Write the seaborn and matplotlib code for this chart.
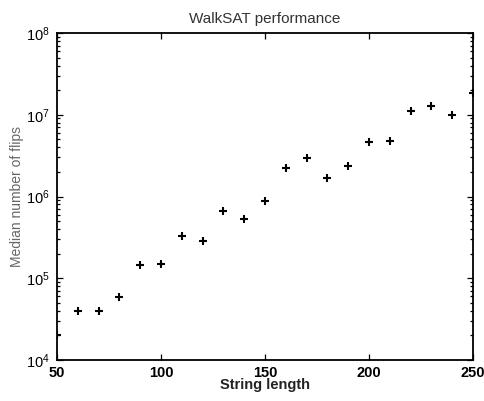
import matplotlib
matplotlib.use("Agg")
import matplotlib.pyplot as plt
import seaborn as sns
import pandas as pd
from matplotlib.ticker import LogLocator, NullFormatter

# data
string_length = [50, 60, 70, 80, 90, 100, 110, 120, 130, 140, 150,
                 160, 170, 180, 190, 200, 210, 220, 230, 240, 250]
median_flips = [2.0e4, 4.0e4, 4.0e4, 5.9e4, 1.47e5, 1.48e5, 3.25e5, 2.85e5,
                6.7e5, 5.35e5, 8.9e5, 2.24e6, 2.93e6, 1.7e6, 2.37e6, 4.7e6,
                4.75e6, 1.12e7, 1.27e7, 1.0e7, 1.86e7]

df = pd.DataFrame({"length": string_length, "flips": median_flips})

sns.set_style("ticks")
plt.rcParams["font.family"] = ["Liberation Sans", "DejaVu Sans"]
plt.rcParams["mathtext.fontset"] = "custom"
plt.rcParams["mathtext.rm"] = "Liberation Sans:bold"

fig = plt.figure(figsize=(4.85, 4.01), dpi=100)
ax = fig.add_axes([57 / 485, 41 / 401, 416 / 485, 327 / 401])

sns.scatterplot(data=df, x="length", y="flips", marker="+", color="black",
                s=40, linewidth=1.5, ax=ax, legend=False)

ax.set_yscale("log")
ax.set_xlim(50, 250)
ax.set_ylim(1e4, 1e8)
ax.set_xticks([50, 100, 150, 200, 250])
ax.yaxis.set_major_locator(LogLocator(base=10, numticks=10))
ax.yaxis.set_minor_locator(LogLocator(base=10, subs=range(2, 10), numticks=20))
ax.yaxis.set_minor_formatter(NullFormatter())

ax.tick_params(which="both", direction="in", top=True, right=True,
               labelsize=10.5, colors="black", width=0.9)
ax.tick_params(which="major", length=4)
ax.tick_params(which="minor", length=2.5)
ax.tick_params(axis="x", pad=4)
ax.tick_params(axis="y", pad=5)
for lab in ax.get_xticklabels():
    lab.set_fontweight("bold")
for sp in ax.spines.values():
    sp.set_visible(True)
    sp.set_linewidth(1.3)
    sp.set_color("black")

ax.set_title("WalkSAT performance", fontsize=11, color="#333333", pad=7)
ax.set_xlabel("String length", fontsize=10.5, fontweight="bold",
              color="#222222", labelpad=-1)
ax.set_ylabel("Median number of flips", fontsize=10, color="#666666", labelpad=2)

fig.savefig("out.png", dpi=100)
